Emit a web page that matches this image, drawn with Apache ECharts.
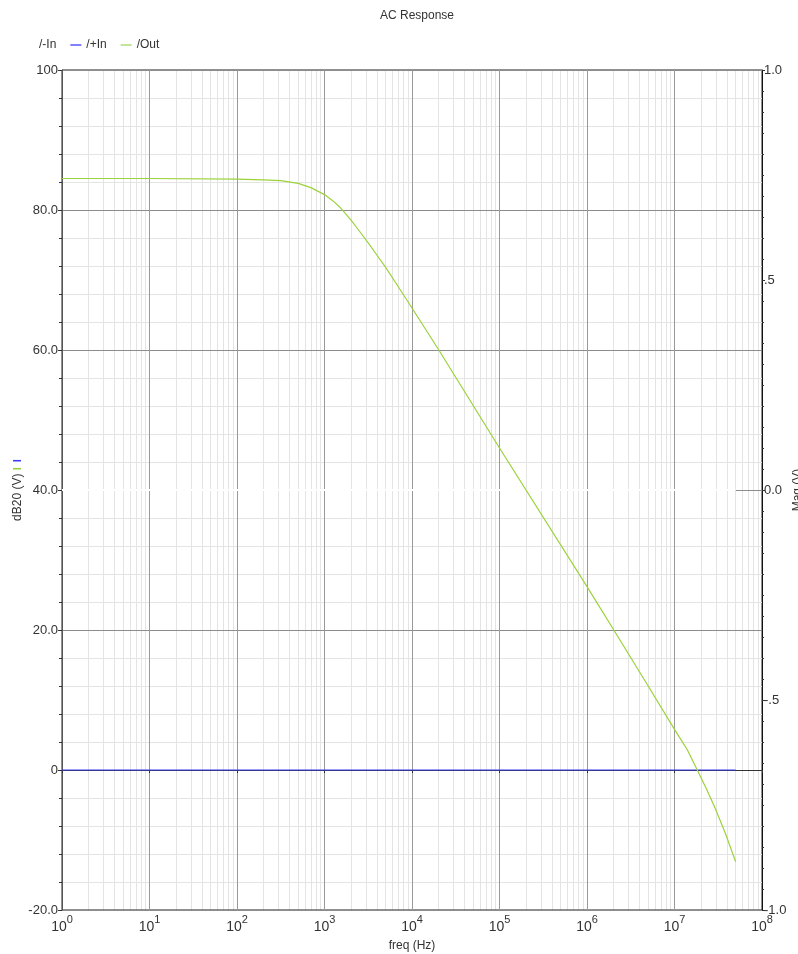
<!DOCTYPE html>
<html>
<head>
<meta charset="utf-8">
<script src="https://cdn.jsdelivr.net/npm/echarts@6/dist/echarts.min.js"></script>
<style>
html,body{margin:0;padding:0;background:#fff;}
#chart{width:798px;height:954px;}
</style>
</head>
<body>
<div id="chart"></div>
<script>
// ---- data ----
var outFreq = [1, 10, 100, 200, 316, 500, 700, 1000, 1250, 1500, 2000, 2500, 3160, 4000, 5000, 7000, 10000, 20000, 100000, 1000000, 2000000, 5000000, 10000000, 14000000, 18200000, 23000000, 29000000, 38000000, 50000000];
var outDb   = [84.5, 84.5, 84.4, 84.3, 84.2, 83.8, 83.2, 82.2, 81.3, 80.4, 78.6, 77.0, 75.3, 73.5, 71.8, 69.0, 66.0, 60.1, 46.0, 26.2, 20.1, 12.0, 5.8, 2.9, 0.0, -2.6, -5.4, -9.0, -13.1];
var plusInFreq = [1, 50000000];
var plusInDb   = [0, 0];
var minusInFreq = [1, 50000000];
var minusInMag  = [0, 0];
var leftTicks = {"100": "100", "80": "80.0", "60": "60.0", "40": "40.0", "20": "20.0", "0": "0", "-20": "-20.0"};
var rightTicks = {"1": "1.0", "0.5": ".5", "0": "0.0", "-0.5": "-.5", "-1": "-1.0"};

function pairs(xs, ys) { return xs.map(function (x, i) { return [x, ys[i]]; }); }

var minorGrid = [], minorTicks = [];
for (var k = 0; k < 8; k++) {
  for (var m = 2; m <= 9; m++) {
    var f = m * Math.pow(10, k);
    minorGrid.push({ xAxis: f });
    minorTicks.push([{ coord: [f, -20] }, { coord: [f, -20.45] }]);
  }
}

var FONT = "'Liberation Sans', Arial, sans-serif";
var chart = echarts.init(document.getElementById('chart'), null, { renderer: 'canvas' });

chart.setOption({
  animation: false,
  backgroundColor: '#fff',
  textStyle: { fontFamily: FONT },
  title: {
    text: 'AC Response', left: 412, top: 5, textAlign: 'center',
    textStyle: { fontFamily: FONT, fontSize: 12, fontWeight: 'normal', color: '#333' }
  },
  legend: {
    left: 18, top: 34, itemGap: 14, itemWidth: 11, itemHeight: 2, icon: 'rect',
    textStyle: { fontFamily: FONT, fontSize: 12, color: '#333' },
    data: ['/-In', '/+In', '/Out']
  },
  grid: { left: 62, right: 36, top: 70, bottom: 44, show: true, borderColor: '#222', borderWidth: 1, containLabel: false, outerBoundsMode: 'none' },
  xAxis: {
    type: 'log', logBase: 10, min: 1, max: 100000000,
    name: 'freq (Hz)', nameLocation: 'middle', nameGap: 30,
    nameTextStyle: { fontFamily: FONT, fontSize: 12, color: '#333' },
    axisLine: { show: true, lineStyle: { color: '#333' } },
    axisTick: { show: true, length: 3, inside: false, lineStyle: { color: '#333' } },
    splitLine: { show: true, lineStyle: { color: '#999', width: 1, type: 'solid' } },
    axisLabel: {
      margin: 4,
      formatter: function (v) {
        var e = Math.round(Math.log10(v));
        return '{b|10}{s|' + e + '}';
      },
      rich: {
        b: { fontFamily: FONT, fontSize: 14, color: '#333', verticalAlign: 'bottom', padding: [6, 0, 0, 0] },
        s: { fontFamily: FONT, fontSize: 11, color: '#333', verticalAlign: 'top' }
      }
    }
  },
  yAxis: [
    {
      type: 'value', min: -20, max: 100, interval: 20, position: 'left',
      name: 'dB20 (V) {g|I}{b|I}', nameLocation: 'middle', nameGap: 38, nameRotate: 90, nameMoveOverlap: false,
      nameTextStyle: {
        fontFamily: FONT, fontSize: 12, color: '#333',
        rich: {
          g: { fontFamily: FONT, fontSize: 11, color: '#9cd23c', fontWeight: 'bold' },
          b: { fontFamily: FONT, fontSize: 11, color: '#4040f0', fontWeight: 'bold', padding: [0, 0, 0, 5] }
        }
      },
      axisLine: { show: true, lineStyle: { color: '#555' } },
      axisTick: { show: true, length: 4, lineStyle: { color: '#333' } },
      minorTick: { show: true, splitNumber: 5, length: 3, lineStyle: { color: '#333' } },
      splitLine: { show: true, lineStyle: { color: '#8c8c8c', width: 1, type: 'solid' } },
      minorSplitLine: { show: true, lineStyle: { color: '#e4e4e4', width: 1 } },
      axisLabel: {
        margin: 4, fontFamily: FONT, fontSize: 13, color: '#333',
        formatter: function (v) { return leftTicks[String(v)] !== undefined ? leftTicks[String(v)] : String(v); }
      }
    },
    {
      type: 'value', min: -1, max: 1, interval: 0.5, position: 'right',
      name: 'Mag (V)', nameLocation: 'middle', nameGap: 30, nameRotate: 90, nameMoveOverlap: false,
      nameTextStyle: { fontFamily: FONT, fontSize: 12, color: '#333' },
      axisLine: { show: true, lineStyle: { color: '#111' } },
      axisTick: { show: true, length: 3, lineStyle: { color: '#333' } },
      minorTick: { show: true, splitNumber: 10, length: 2, lineStyle: { color: '#333' } },
      splitLine: { show: false },
      axisLabel: {
        margin: 2, fontFamily: FONT, fontSize: 13, color: '#333',
        formatter: function (v) { return rightTicks[String(v)] !== undefined ? rightTicks[String(v)] : String(v); }
      }
    }
  ],
  series: [
    {
      name: 'gridhelper', type: 'line', data: [], z: -1, silent: true, xAxisIndex: 0, yAxisIndex: 0,
      markLine: {
        silent: true, z: -1, symbol: ['none', 'none'], label: { show: false }, animation: false,
        lineStyle: { color: '#e4e4e4', type: 'solid', width: 1 },
        emphasis: { disabled: true },
        data: minorGrid
      }
    },
    {
      name: 'tickhelper', type: 'line', data: [], silent: true, xAxisIndex: 0, yAxisIndex: 0,
      markLine: {
        silent: true, symbol: ['none', 'none'], label: { show: false }, animation: false,
        lineStyle: { color: '#333', type: 'solid', width: 1 },
        emphasis: { disabled: true },
        data: minorTicks
      }
    },
    {
      name: '/-In', type: 'line', yAxisIndex: 1, showSymbol: false, symbol: 'none',
      color: '#ffffff', lineStyle: { color: '#ffffff', width: 2 },
      data: pairs(minusInFreq, minusInMag)
    },
    {
      name: '/+In', type: 'line', yAxisIndex: 0, showSymbol: false, symbol: 'none',
      color: '#8080ff', lineStyle: { color: '#3c3cf0', width: 1.2 },
      data: pairs(plusInFreq, plusInDb)
    },
    {
      name: '/Out', type: 'line', yAxisIndex: 0, showSymbol: false, symbol: 'none', smooth: false,
      color: '#c4e49a', lineStyle: { color: '#9cd23c', width: 1.2 },
      data: pairs(outFreq, outDb)
    }
  ]
});
</script>
</body>
</html>
